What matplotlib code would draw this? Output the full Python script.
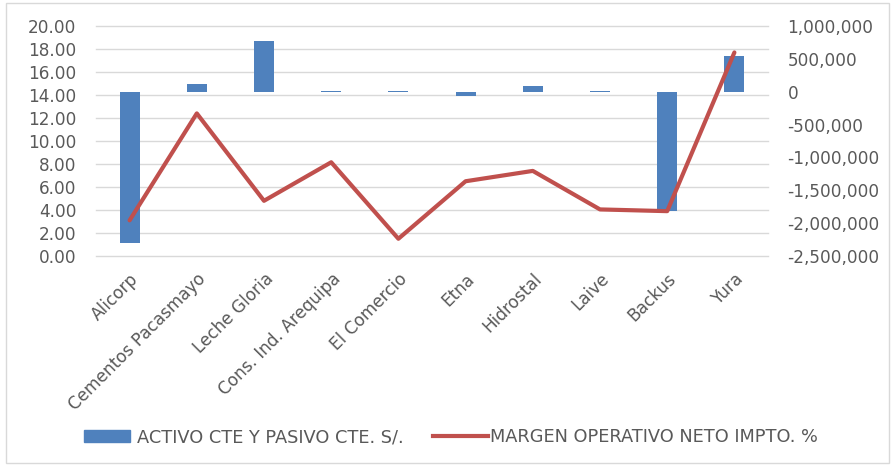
import numpy as np
import matplotlib.pyplot as plt
import matplotlib.transforms as mtransforms
from matplotlib.patches import Rectangle, Patch
from matplotlib.lines import Line2D
from matplotlib.ticker import FuncFormatter

plt.rcParams['axes.unicode_minus'] = False

# datos
empresas = ['Alicorp', 'Cementos Pacasmayo', 'Leche Gloria', 'Cons. Ind. Arequipa',
            'El Comercio', 'Etna', 'Hidrostal', 'Laive', 'Backus', 'Yura']
activo_pasivo = [-2300000, 110000, 770000, 18000, 18000, -70000, 80000, 15000, -1820000, 550000]
margen = [3.1, 12.4, 4.8, 8.15, 1.5, 6.5, 7.4, 4.05, 3.9, 17.7]

ticks_izq = np.arange(0, 21, 2)
ticks_der = np.arange(-2500000, 1000001, 500000)

azul = '#4f81bd'
rojo = '#c0504d'
gris = '#595959'

fig = plt.figure(figsize=(8.91, 4.66), dpi=100)
fig.patches.append(Rectangle((6 / 891, 3 / 466), 883 / 891, 460 / 466, transform=fig.transFigure,
                             fill=False, edgecolor='#d9d9d9', lw=1))

ax = fig.add_axes([96 / 891, 1 - 256 / 466, 672 / 891, 230 / 466])
ax2 = ax.twinx()
ax.set_zorder(2)
ax2.set_zorder(1)
ax.patch.set_visible(False)

x = np.arange(len(empresas))

# barras (eje derecho)
ax2.bar(x, activo_pasivo, width=0.3, color=azul, zorder=2)
ax2.set_ylim(-2500000, 1000000)
ax2.set_yticks(ticks_der)
ax2.yaxis.set_major_formatter(FuncFormatter(lambda v, p: '{:,.0f}'.format(v)))

# lineas de cuadricula segun el eje izquierdo, debajo de las barras
trans = mtransforms.blended_transform_factory(ax2.transAxes, ax.transData)
for v in ticks_izq:
    ax2.plot([0, 1], [v, v], transform=trans, color='#d9d9d9', lw=1, zorder=0, clip_on=False)

# linea (eje izquierdo)
ax.plot(x, margen, color=rojo, lw=3, solid_capstyle='round', zorder=3)
ax.set_ylim(0, 20)
ax.set_yticks(ticks_izq)
ax.yaxis.set_major_formatter(FuncFormatter(lambda v, p: '{:.2f}'.format(v)))
ax.set_xlim(-0.5, len(empresas) - 0.5)
ax.set_xticks(x)
ax.set_xticklabels(empresas, rotation=45, ha='right', rotation_mode='anchor')

for a in (ax, ax2):
    for s in a.spines.values():
        s.set_visible(False)
    a.tick_params(length=0, colors=gris)

ax.tick_params(axis='y', labelsize=12.2, pad=14)
ax2.tick_params(axis='y', labelsize=12.2, pad=14)
ax.tick_params(axis='x', labelsize=12.2, pad=10)

# leyenda en dos partes para controlar el largo de cada simbolo
prop = {'size': 12.8}
ley1 = fig.legend([Patch(color=azul)], ['ACTIVO CTE Y PASIVO CTE. S/.'], loc='center left',
                  bbox_to_anchor=(84 / 891, 1 - 437 / 466), frameon=False, prop=prop,
                  labelcolor=gris, handlelength=2.6, handleheight=0.65, handletextpad=0.4,
                  borderpad=0, borderaxespad=0)
ley2 = fig.legend([Line2D([0], [0], color=rojo, lw=3)], ['MARGEN OPERATIVO NETO IMPTO. %'],
                  loc='center left', bbox_to_anchor=(433 / 891, 1 - 437 / 466), frameon=False,
                  prop=prop, labelcolor=gris, handlelength=3.1, handletextpad=0.1,
                  borderpad=0, borderaxespad=0)

plt.savefig('out.png', dpi=100)
